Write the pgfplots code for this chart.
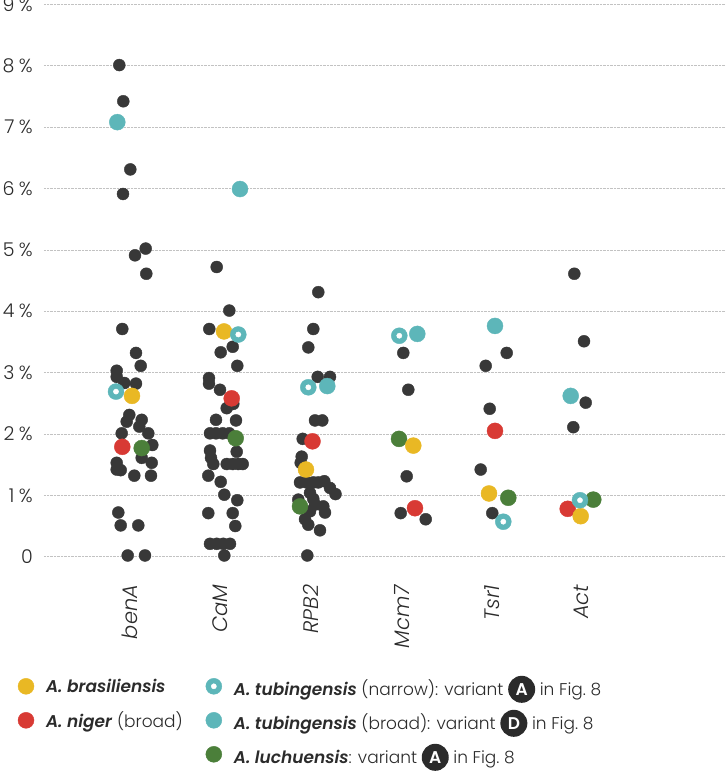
\documentclass[border=0pt]{standalone}
\usepackage{fontspec}
\setmainfont{Poppins}[UprightFont=* Light, ItalicFont=* Light Italic, BoldFont=* SemiBold, BoldItalicFont=* SemiBold Italic]
\usepackage{pgfplots}
\pgfplotsset{compat=1.18}
\definecolor{darkc}{HTML}{383838}
\definecolor{yellowc}{HTML}{E9B824}
\definecolor{redc}{HTML}{D83A34}
\definecolor{tealc}{HTML}{5DB6B9}
\definecolor{greenc}{HTML}{4B7F3A}
\definecolor{txt}{HTML}{2B2B2B}
\newcommand\circled[1]{\tikz[baseline=(c.base)]\node[circle,fill=txt,text=white,inner sep=0pt,minimum size=27pt,text height=12pt,text depth=0pt,font=\bfseries\upshape](c){#1};}
\newcommand\pc[1]{#1\hspace{4.5pt}\%}

\pgfplotstableread{
x y
119.3 8.01
123.3 7.42
130.3 6.31
123 5.91
145.7 5.02
135 4.91
146.3 4.61
122.3 3.71
136 3.32
140.7 3.11
116.7 3.03
116.7 2.93
124.3 2.83
136 2.82
129.3 2.31
126.7 2.20
141.7 2.23
139.3 2.12
121.7 2.01
148.3 2.01
152.3 1.82
141.7 1.61
116.7 1.53
151.7 1.53
116.7 1.42
120.7 1.41
134.3 1.32
151 1.32
118.3 0.72
120.7 0.51
138.3 0.51
127.7 0.02
145 0.02
216.7 4.72
229.3 4.01
209.3 3.71
232.7 3.42
220.7 3.33
237.3 3.11
209 2.91
209 2.82
220 2.72
233.3 2.49
226.7 2.42
216 2.23
236 2.22
210 2.01
216 2.01
222.7 2.01
229.3 2.01
210 1.73
236.7 1.71
211 1.61
213.3 1.51
226.7 1.51
232.7 1.51
238.3 1.51
242.7 1.51
208.3 1.32
220.7 1.22
224.3 1.01
237.3 0.92
208.3 0.71
232.7 0.71
235.3 0.50
210 0.21
216.7 0.21
223.3 0.21
230 0.21
224.3 0.02
318.3 4.31
313.3 3.71
308.3 3.41
317.7 2.93
330 2.93
315 2.22
322.3 2.22
302.7 1.92
301.7 1.63
300.7 1.53
300 1.21
306.7 1.21
313.3 1.21
318.3 1.21
324.3 1.23
330 1.12
335.5 1.02
310 1.04
298.3 0.93
313.3 0.94
315 0.85
323.3 0.82
325 0.72
310 0.74
305 0.61
308.3 0.52
320 0.43
307.3 0.02
403.3 3.32
408.3 2.72
406.7 1.31
400.7 0.71
425.7 0.61
506.7 3.32
485.7 3.11
489.7 2.41
480.7 1.42
492.3 0.71
574.3 4.61
584 3.51
585.7 2.51
573.3 2.11
}\darkdata

\pgfplotstableread{
x y
132 2.62
224 3.67
306 1.42
413.3 1.81
489 1.03
580.7 0.66
}\yellowdata

\pgfplotstableread{
x y
122.3 1.79
231.7 2.58
312.5 1.88
415 0.79
495 2.05
567.7 0.78
}\reddata

\pgfplotstableread{
x y
116 2.69
238.3 3.62
308.3 2.76
399.3 3.60
503.3 0.57
580 0.92
}\ringdata

\pgfplotstableread{
x y
117.3 7.08
240 5.99
327.3 2.78
417.3 3.63
495 3.76
570.7 2.62
}\tealdata

\pgfplotstableread{
x y
141.7 1.77
235.7 1.93
300 0.82
399 1.92
508.3 0.96
593.3 0.93
}\greendata

\begin{document}
\begin{tikzpicture}
\path[use as bounding box] (0pt,0pt) rectangle (726pt,772pt);
\begin{axis}[
  at={(44pt,215.3pt)}, anchor=south west,
  scale only axis, width=682pt, height=552.4pt,
  xmin=44, xmax=726, ymin=0, ymax=9,
  clip=false,
  axis line style={draw=none},
  major tick length=0pt,
  ytick={0,1,2,3,4,5,6,7,8,9},
  yticklabels={0,\pc{1},\pc{2},\pc{3},\pc{4},\pc{5},\pc{6},\pc{7},\pc{8},\pc{9}},
  ymajorgrids,
  grid style={densely dotted, black!24, line width=0.6pt},
  xtick={130,220,311,402,492,581},
  xticklabels={benA,CaM,RPB2,Mcm7,Tsr1,Act},
  xticklabel style={rotate=90, anchor=east, inner sep=0pt, font=\fontsize{21}{24}\selectfont\itshape, text=txt},
  xticklabel shift=28pt,
  yticklabel style={anchor=east, inner sep=0pt, font=\fontsize{19}{22}\selectfont, text=txt},
  yticklabel shift=11pt,
  legend image code/.code={\draw[#1] plot coordinates {(0pt,0pt)};},
  legend columns=2,
  legend cell align=left,
  legend style={draw=none, fill=none, inner sep=0pt, outer sep=0pt,
    at={(-0.0381,-0.212)}, anchor=north west,
    font=\fontsize{17}{20}\selectfont, text=txt, row sep=9pt,
    /tikz/every odd column/.append style={column sep=10pt},
    /tikz/every even column/.append style={column sep=21pt}},
]
\addplot[only marks, mark=*, mark size=6pt, color=darkc, forget plot] table {\darkdata};
\addplot[only marks, mark=*, mark size=8pt, color=greenc, forget plot] table {\greendata};
\addplot[only marks, mark=*, mark size=8pt, color=redc, forget plot] table {\reddata};
\addplot[only marks, mark=*, mark size=8pt, color=yellowc, forget plot] table {\yellowdata};
\addplot[only marks, mark=*, mark size=8pt, color=tealc, forget plot] table {\tealdata};
\addplot[only marks, mark=*, mark size=8pt, color=tealc, forget plot] table {\ringdata};
\addplot[only marks, mark=*, mark size=2.6pt, color=white, forget plot] table {\ringdata};

\addlegendimage{only marks, mark=*, mark size=8pt, color=yellowc}
\addlegendentry{\textbf{\textit{A. brasiliensis}}}
\addlegendimage{legend image code/.code={\draw[only marks, mark=*, mark size=8pt, color=tealc] plot coordinates {(0pt,0pt)}; \draw[only marks, mark=*, mark size=2.6pt, color=white] plot coordinates {(0pt,0pt)};}}
\addlegendentry{\textbf{\textit{A. tubingensis}} (narrow): variant \circled{A} in Fig.~8}
\addlegendimage{only marks, mark=*, mark size=8pt, color=redc}
\addlegendentry{\textbf{\textit{A. niger}} (broad)}
\addlegendimage{only marks, mark=*, mark size=8pt, color=tealc}
\addlegendentry{\textbf{\textit{A. tubingensis}} (broad): variant \circled{D} in Fig.~8}
\addlegendimage{empty legend}
\addlegendentry{}
\addlegendimage{only marks, mark=*, mark size=8pt, color=greenc}
\addlegendentry{\textbf{\textit{A. luchuensis}}: variant \circled{A} in Fig.~8}
\end{axis}
\end{tikzpicture}
\end{document}
